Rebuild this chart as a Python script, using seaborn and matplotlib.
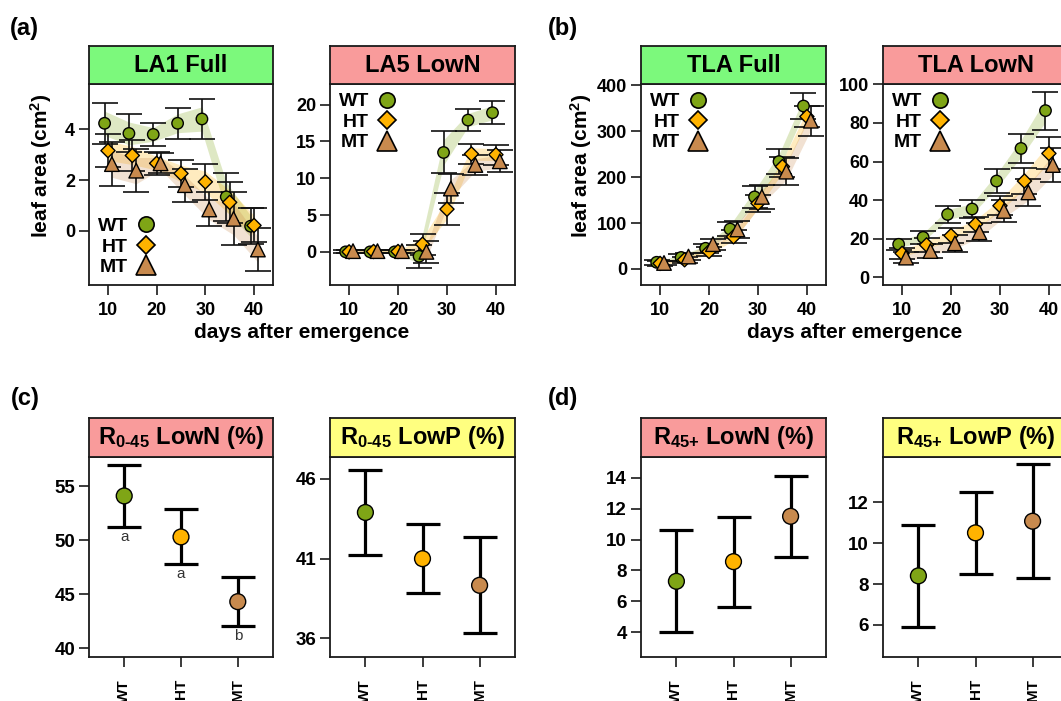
import numpy as np
import pandas as pd
import matplotlib
matplotlib.use("Agg")
import matplotlib.pyplot as plt
from matplotlib.lines import Line2D
import seaborn as sns

# ---- data ----
days = [10, 15, 20, 25, 30, 35, 40]
genotypes = ["WT", "HT", "MT"]

# LA1 Full
la1_full_wt = [4.24, 3.84, 3.80, 4.24, 4.41, 1.34, 0.18]
la1_full_wt_err = [0.80, 0.75, 0.45, 0.62, 0.80, 0.95, 0.70]
la1_full_ht = [3.16, 2.97, 2.66, 2.26, 1.93, 1.12, 0.21]
la1_full_ht_err = [0.65, 0.60, 0.45, 0.55, 0.70, 0.80, 0.67]
la1_full_mt = [2.63, 2.37, 2.66, 1.80, 0.84, 0.47, -0.74]
la1_full_mt_err = [0.87, 0.86, 0.40, 0.65, 0.67, 1.05, 0.84]

# LA5 LowN
la5_lown_wt = [0.0, 0.0, 0.0, -0.6, 13.5, 17.9, 18.9]
la5_lown_wt_err = [0.2, 0.2, 0.2, 1.6, 2.85, 1.5, 1.6]
la5_lown_ht = [0.0, 0.05, 0.05, 1.04, 5.8, 13.3, 13.2]
la5_lown_ht_err = [0.2, 0.2, 0.2, 1.4, 2.2, 1.4, 1.35]
la5_lown_mt = [0.1, 0.1, 0.1, 0.0, 8.6, 11.8, 12.3]
la5_lown_mt_err = [0.2, 0.2, 0.2, 1.5, 2.0, 1.4, 1.5]

# TLA Full
tla_full_wt = [14.5, 25, 45, 87, 157, 234, 355]
tla_full_wt_err = [5, 8, 10, 15, 24, 27, 29]
tla_full_ht = [12, 20, 38, 70, 143, 223, 332]
tla_full_ht_err = [5, 7, 10, 14, 18, 22, 22]
tla_full_mt = [13, 27, 54, 86, 157, 212, 323]
tla_full_mt_err = [5, 8, 12, 18, 26, 30, 33]

# TLA LowN
tla_lown_wt = [17.1, 20.7, 32.6, 35.4, 49.9, 66.8, 86.4]
tla_lown_wt_err = [3.0, 3.5, 4.3, 4.5, 6.0, 7.5, 9.8]
tla_lown_ht = [12.4, 16.8, 21.6, 27.5, 37.1, 49.9, 64.2]
tla_lown_ht_err = [3.0, 3.5, 4.0, 4.0, 5.0, 6.6, 8.3]
tla_lown_mt = [10.2, 13.6, 17.6, 23.3, 34.4, 44.0, 58.2]
tla_lown_mt_err = [3.0, 3.8, 4.5, 4.6, 5.6, 7.0, 8.6]

# ratio panels
r045_lown = [54.1, 50.3, 44.3]
r045_lown_err = [2.9, 2.55, 2.3]
r045_lown_letters = ["a", "a", "b"]
r045_lowp = [43.9, 41.0, 39.33]
r045_lowp_err = [2.68, 2.17, 3.02]
r45_lown = [7.3, 8.57, 11.5]
r45_lown_err = [3.3, 2.9, 2.6]
r45_lowp = [8.4, 10.51, 11.08]
r45_lowp_err = [2.5, 2.0, 2.8]

# ---- style ----
colors = {"WT": "#7fa516", "HT": "#ffb300", "MT": "#c88a4e"}
markers = {"WT": "o", "HT": "D", "MT": "^"}
sizes = {"WT": 68, "HT": 52, "MT": 110}
leg_ms = {"WT": 11, "HT": 9.5, "MT": 15}
dodge = {"WT": -0.7, "HT": 0.0, "MT": 0.8}
head_full, head_lown, head_lowp = "#7cf97c", "#f99b9b", "#ffff80"

sns.set_theme(style="ticks")
plt.rcParams['font.family'] = ['Liberation Sans', 'DejaVu Sans']
plt.rcParams['font.weight'] = 'bold'
plt.rcParams['text.color'] = 'black'
plt.rcParams['axes.labelcolor'] = 'black'
plt.rcParams['xtick.color'] = 'black'
plt.rcParams['ytick.color'] = 'black'
plt.rcParams['mathtext.fontset'] = 'custom'
plt.rcParams['mathtext.rm'] = 'Liberation Sans:bold'
plt.rcParams['mathtext.it'] = 'Liberation Sans:bold'
plt.rcParams['mathtext.bf'] = 'Liberation Sans:bold'

W, H = 1061, 701
fig = plt.figure(figsize=(W / 100, H / 100), dpi=100)


def px_axes(x0, y0, x1, y1):
    return fig.add_axes([x0 / W, 1 - y1 / H, (x1 - x0) / W, (y1 - y0) / H])


def style_box(ax):
    for s in ax.spines.values():
        s.set_linewidth(1.3)
        s.set_color("#1a1a1a")


def header(x0, x1, y0, y1, title, color):
    hax = px_axes(x0, y0, x1, y1)
    hax.set_facecolor(color)
    hax.set_xticks([])
    hax.set_yticks([])
    style_box(hax)
    hax.text(0.5, 0.5, title, transform=hax.transAxes, ha="center",
             va="center", fontsize=17, fontweight="bold")


def growth_panel(ax, series, ylim, yticks, loc):
    rows = []
    for g in genotypes:
        mean, err = np.array(series[g][0]), np.array(series[g][1])
        x = np.array(days) + dodge[g]
        ax.fill_between(x, mean - 0.6 * err, mean + 0.6 * err,
                        color=colors[g], alpha=0.25, lw=0, zorder=1)
        ax.errorbar(x, mean, yerr=err, fmt="none", ecolor="#111111",
                    elinewidth=1.2, capsize=9.5, capthick=1.2, zorder=2)
        for xi, mi in zip(x, mean):
            rows.append({"x": xi, "mean": mi, "genotype": g})
    df = pd.DataFrame(rows)
    sns.scatterplot(data=df, x="x", y="mean", hue="genotype", style="genotype",
                    size="genotype", palette=colors, markers=markers,
                    sizes=sizes, edgecolor="black", linewidth=1.0,
                    legend=False, zorder=3, ax=ax)
    ax.set_xlim(6.1, 43.9)
    ax.set_ylim(*ylim)
    ax.set_xticks([10, 20, 30, 40])
    ax.set_yticks(yticks)
    ax.set_xlabel("")
    ax.set_ylabel("")
    ax.tick_params(length=7, width=1.2, color="#1a1a1a", labelsize=13)
    ax.tick_params(axis="x", pad=5)
    ax.tick_params(axis="y", pad=3)
    style_box(ax)
    handles = [Line2D([], [], ls="none", marker=markers[g], ms=leg_ms[g],
                      mfc=colors[g], mec="black", mew=1.2) for g in genotypes]
    ax.legend(handles, genotypes, loc=loc, markerfirst=False, frameon=False,
              handletextpad=0.3, labelspacing=0.15, borderaxespad=0.25,
              borderpad=0.2, handlelength=1.2,
              prop={"size": 14, "weight": "bold"})


def ratio_panel(ax, mean, err, ylim, yticks, letters=None):
    df = pd.DataFrame({"genotype": genotypes, "mean": mean})
    ax.errorbar(range(3), mean, yerr=err, fmt="none", ecolor="black",
                elinewidth=2.3, capsize=12, capthick=2.3, zorder=2)
    sns.scatterplot(data=df, x="genotype", y="mean", hue="genotype",
                    palette=colors, s=130, edgecolor="black", linewidth=1.0,
                    legend=False, zorder=3, ax=ax)
    if letters:
        for i, (m, e, t) in enumerate(zip(mean, err, letters)):
            ax.annotate(t, (i, m - e), xytext=(0, -2), textcoords="offset points",
                        ha="center", va="top", fontsize=11, fontweight="normal",
                        color="#333333")
    ax.set_xlim(-0.62, 2.62)
    ax.set_ylim(*ylim)
    ax.set_yticks(yticks)
    ax.set_xticks(range(3))
    ax.set_xticklabels(genotypes, rotation=90, fontsize=11, fontweight="bold")
    ax.set_xlabel("")
    ax.set_ylabel("")
    ax.tick_params(length=7, width=1.2, color="#1a1a1a")
    ax.tick_params(axis="y", labelsize=13.5, pad=3)
    ax.tick_params(axis="x", pad=9)
    style_box(ax)


cols = [(89, 273), (330, 515), (641, 826), (883, 1068)]

# ---- top row ----
top_specs = [
    ("LA1 Full", head_full, {"WT": (la1_full_wt, la1_full_wt_err),
                             "HT": (la1_full_ht, la1_full_ht_err),
                             "MT": (la1_full_mt, la1_full_mt_err)},
     (-2.14, 5.79), [0, 2, 4], "lower left"),
    ("LA5 LowN", head_lown, {"WT": (la5_lown_wt, la5_lown_wt_err),
                             "HT": (la5_lown_ht, la5_lown_ht_err),
                             "MT": (la5_lown_mt, la5_lown_mt_err)},
     (-4.5, 22.8), [0, 5, 10, 15, 20], "upper left"),
    ("TLA Full", head_full, {"WT": (tla_full_wt, tla_full_wt_err),
                             "HT": (tla_full_ht, tla_full_ht_err),
                             "MT": (tla_full_mt, tla_full_mt_err)},
     (-35, 403), [0, 100, 200, 300, 400], "upper left"),
    ("TLA LowN", head_lown, {"WT": (tla_lown_wt, tla_lown_wt_err),
                             "HT": (tla_lown_ht, tla_lown_ht_err),
                             "MT": (tla_lown_mt, tla_lown_mt_err)},
     (-4, 100.2), [0, 20, 40, 60, 80, 100], "upper left"),
]
for (x0, x1), (title, hc, series, ylim, yt, loc) in zip(cols, top_specs):
    ax = px_axes(x0, 84, x1, 285)
    growth_panel(ax, series, ylim, yt, loc)
    header(x0, x1, 46, 84, title, hc)

# ---- bottom row ----
bottom_specs = [
    (r"R$_{\text{0-45}}$ LowN (%)", head_lown, r045_lown, r045_lown_err,
     (39.17, 57.71), [40, 45, 50, 55], r045_lown_letters),
    (r"R$_{\text{0-45}}$ LowP (%)", head_lowp, r045_lowp, r045_lowp_err,
     (34.83, 47.38), [36, 41, 46], None),
    (r"R$_{\text{45+}}$ LowN (%)", head_lown, r45_lown, r45_lown_err,
     (2.41, 15.33), [4, 6, 8, 10, 12, 14], None),
    (r"R$_{\text{45+}}$ LowP (%)", head_lowp, r45_lowp, r45_lowp_err,
     (4.42, 14.23), [6, 8, 10, 12], None),
]
for (x0, x1), (title, hc, m, e, ylim, yt, let) in zip(cols, bottom_specs):
    ax = px_axes(x0, 457, x1, 657)
    ratio_panel(ax, m, e, ylim, yt, let)
    header(x0, x1, 418, 457, title, hc)

# ---- shared labels ----
for xc in (302, 855):
    fig.text(xc / W, 1 - 333 / H, "days after emergence", ha="center",
             va="center", fontsize=15, fontweight="bold")
for xc in (41, 581):
    fig.text(xc / W, 1 - 166 / H, "leaf area (cm$^{2}$)", ha="center",
             va="center", rotation=90, fontsize=15, fontweight="bold")
for lab, x, y in [("(a)", 10, 28), ("(b)", 548, 28), ("(c)", 11, 398), ("(d)", 548, 398)]:
    fig.text(x / W, 1 - y / H, lab, ha="left", va="center", fontsize=17,
             fontweight="bold")

fig.savefig("out.png", dpi=100)
